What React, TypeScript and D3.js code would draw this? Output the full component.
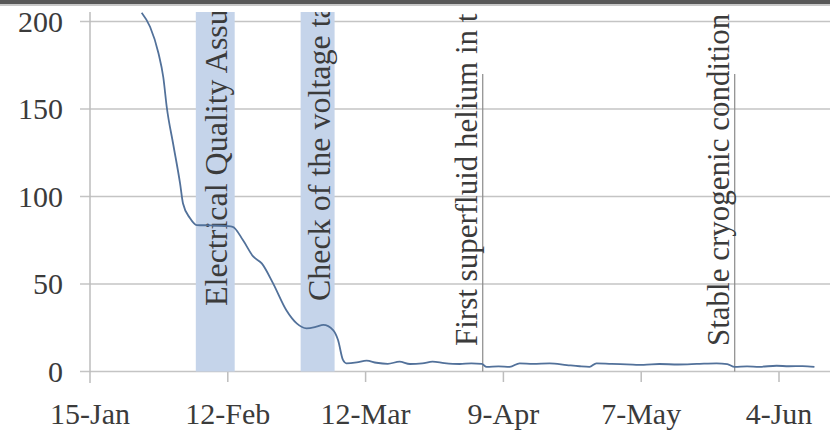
import React from "react";
import * as d3 from "d3";

// day offsets from 15-Jan (non-leap year) and the plotted values
const START = "2007-01-15";
const dayOffsets = [
  10.5, 12.2, 13.9, 14.9, 15.6, 16.9, 18.3, 18.9, 20.3, 21.7, 24.5, 27.8, 29.0,
  31.1, 33.2, 34.9, 37.2, 39.9, 42.0, 44.0, 46.0, 47.4, 49.4, 50.4, 51.4, 52.1,
  54.2, 56.2, 58.2, 60.5, 62.9, 65.0, 67.5, 69.6, 72.0, 75.1, 77.5, 79.6, 80.6,
  83.0, 85.3, 87.3, 90.0, 93.4, 96.9, 99.5, 101.5, 102.9, 106.0, 109.0, 112.5,
  115.7, 119.5, 123.3, 127.3, 129.5, 131.0, 133.5, 136.0, 139.5, 142.0, 144.8,
  147.2,
];
const values = [
  205, 197, 182, 168, 151, 130, 107.5, 96, 87.7, 83.7, 83.5, 83.1, 82.7,
  75, 65.6, 61.8, 50.4, 35, 27.5, 24.7, 25.6, 26.6, 23.7, 18, 6.6, 4.7,
  5.2, 6.2, 5.0, 4.4, 5.6, 4.3, 4.6, 5.6, 4.8, 4.3, 4.6, 4.3, 2.6,
  2.9, 2.7, 4.7, 4.4, 4.7, 3.7, 3.0, 2.7, 4.7, 4.3, 4.1, 3.8,
  4.3, 4.0, 4.3, 4.7, 4.2, 2.6, 2.9, 2.7, 3.3, 3.0, 3.1,
  2.6,
];

const yTicks = [0, 50, 100, 150, 200];
const xTickDays = [0, 28, 56, 84, 112, 140];
const xTickLabels = ["15-Jan", "12-Feb", "12-Mar", "9-Apr", "7-May", "4-Jun"];

const bandStarts = [21.5, 42.8];
const bandEnds = [29.4, 49.7];
const bandLabels = ["Electrical Quality Assu", "Check of the voltage ta"];
const bandLabelBottoms = [306, 301];

const eventDays = [79.8, 131.0];
const eventLabels = ["First superfluid helium in t", "Stable cryogenic condition"];
const eventTopValue = 170;

const toDate = (d: number) => new Date(new Date(START + "T00:00:00Z").getTime() + d * 864e5);

const serifStyle = { fontFamily: "'Liberation Serif', Tinos, 'Times New Roman', serif" };

export default function App() {
  const W = 830, H = 431;
  const x0 = 90;
  const x = d3.scaleUtc().domain([toDate(0), toDate(140)]).range([x0, 779]);
  const y = d3.scaleLinear().domain([0, 200]).range([371.5, 21.5]);
  const clipTop = 12;

  const pts = dayOffsets.map((d, i) => [x(toDate(d)), y(values[i])] as [number, number]);
  const line = d3.line().curve(d3.curveMonotoneX)(pts) || "";

  const textColor = "#3b3b3b";

  return (
    <svg width={W} height={H} style={{ display: "block", position: "absolute", left: 0, top: 0, ...serifStyle }}>
      <defs>
        <clipPath id="plotclip">
          <rect x={0} y={clipTop} width={W} height={H - clipTop} />
        </clipPath>
      </defs>
      <rect x={0} y={0} width={W} height={H} fill="#fff" />
      {yTicks.map((t) => (
        <line key={"g" + t} x1={80} x2={W} y1={y(t)} y2={y(t)} stroke="#c4c4c4" strokeWidth={1.5} />
      ))}
      {yTicks.map((t) => (
        <text key={"yl" + t} x={63} y={y(t)} dy="0.34em" textAnchor="end" style={serifStyle} fontSize={30} fill={textColor}>
          {t}
        </text>
      ))}
      <g clipPath="url(#plotclip)">
        {bandStarts.map((s, i) => (
          <rect key={"b" + i} x={x(toDate(s))} width={x(toDate(bandEnds[i])) - x(toDate(s))} y={0} height={y(0)} fill="#c5d4ea" />
        ))}
        {eventDays.map((d, i) => (
          <line key={"e" + i} x1={x(toDate(d))} x2={x(toDate(d))} y1={y(eventTopValue)} y2={y(0)} stroke="#8a8a8a" strokeWidth={1.2} />
        ))}
        {bandStarts.map((s, i) => {
          const cx = (x(toDate(s)) + x(toDate(bandEnds[i]))) / 2;
          return (
            <text key={"bl" + i} transform={`translate(${cx + 12},${bandLabelBottoms[i]}) rotate(-90)`} style={serifStyle} fontSize={32} fill={textColor}>
              {bandLabels[i]}
            </text>
          );
        })}
        {eventDays.map((d, i) => (
          <text key={"el" + i} transform={`translate(${x(toDate(d)) - 6},346) rotate(-90)`} style={serifStyle} fontSize={31} fill={textColor}>
            {eventLabels[i]}
          </text>
        ))}
        <line x1={x0} x2={x0} y1={0} y2={383} stroke="#bdbdbd" strokeWidth={1.5} />
        <path d={line} fill="none" stroke="#52719a" strokeWidth={1.8} />
      </g>
      {xTickDays.map((d, i) => (
        <g key={"xt" + i}>
          {i > 0 && <line x1={x(toDate(d))} x2={x(toDate(d))} y1={372} y2={382} stroke="#bdbdbd" strokeWidth={1.5} />}
          <text x={x(toDate(d))} y={424} textAnchor="middle" style={serifStyle} fontSize={30} fill={textColor}>
            {xTickLabels[i]}
          </text>
        </g>
      ))}
      <rect x={0} y={0} width={W} height={4} fill="#585858" />
      <rect x={0} y={4} width={W} height={2} fill="#c8c8c8" />
    </svg>
  );
}
